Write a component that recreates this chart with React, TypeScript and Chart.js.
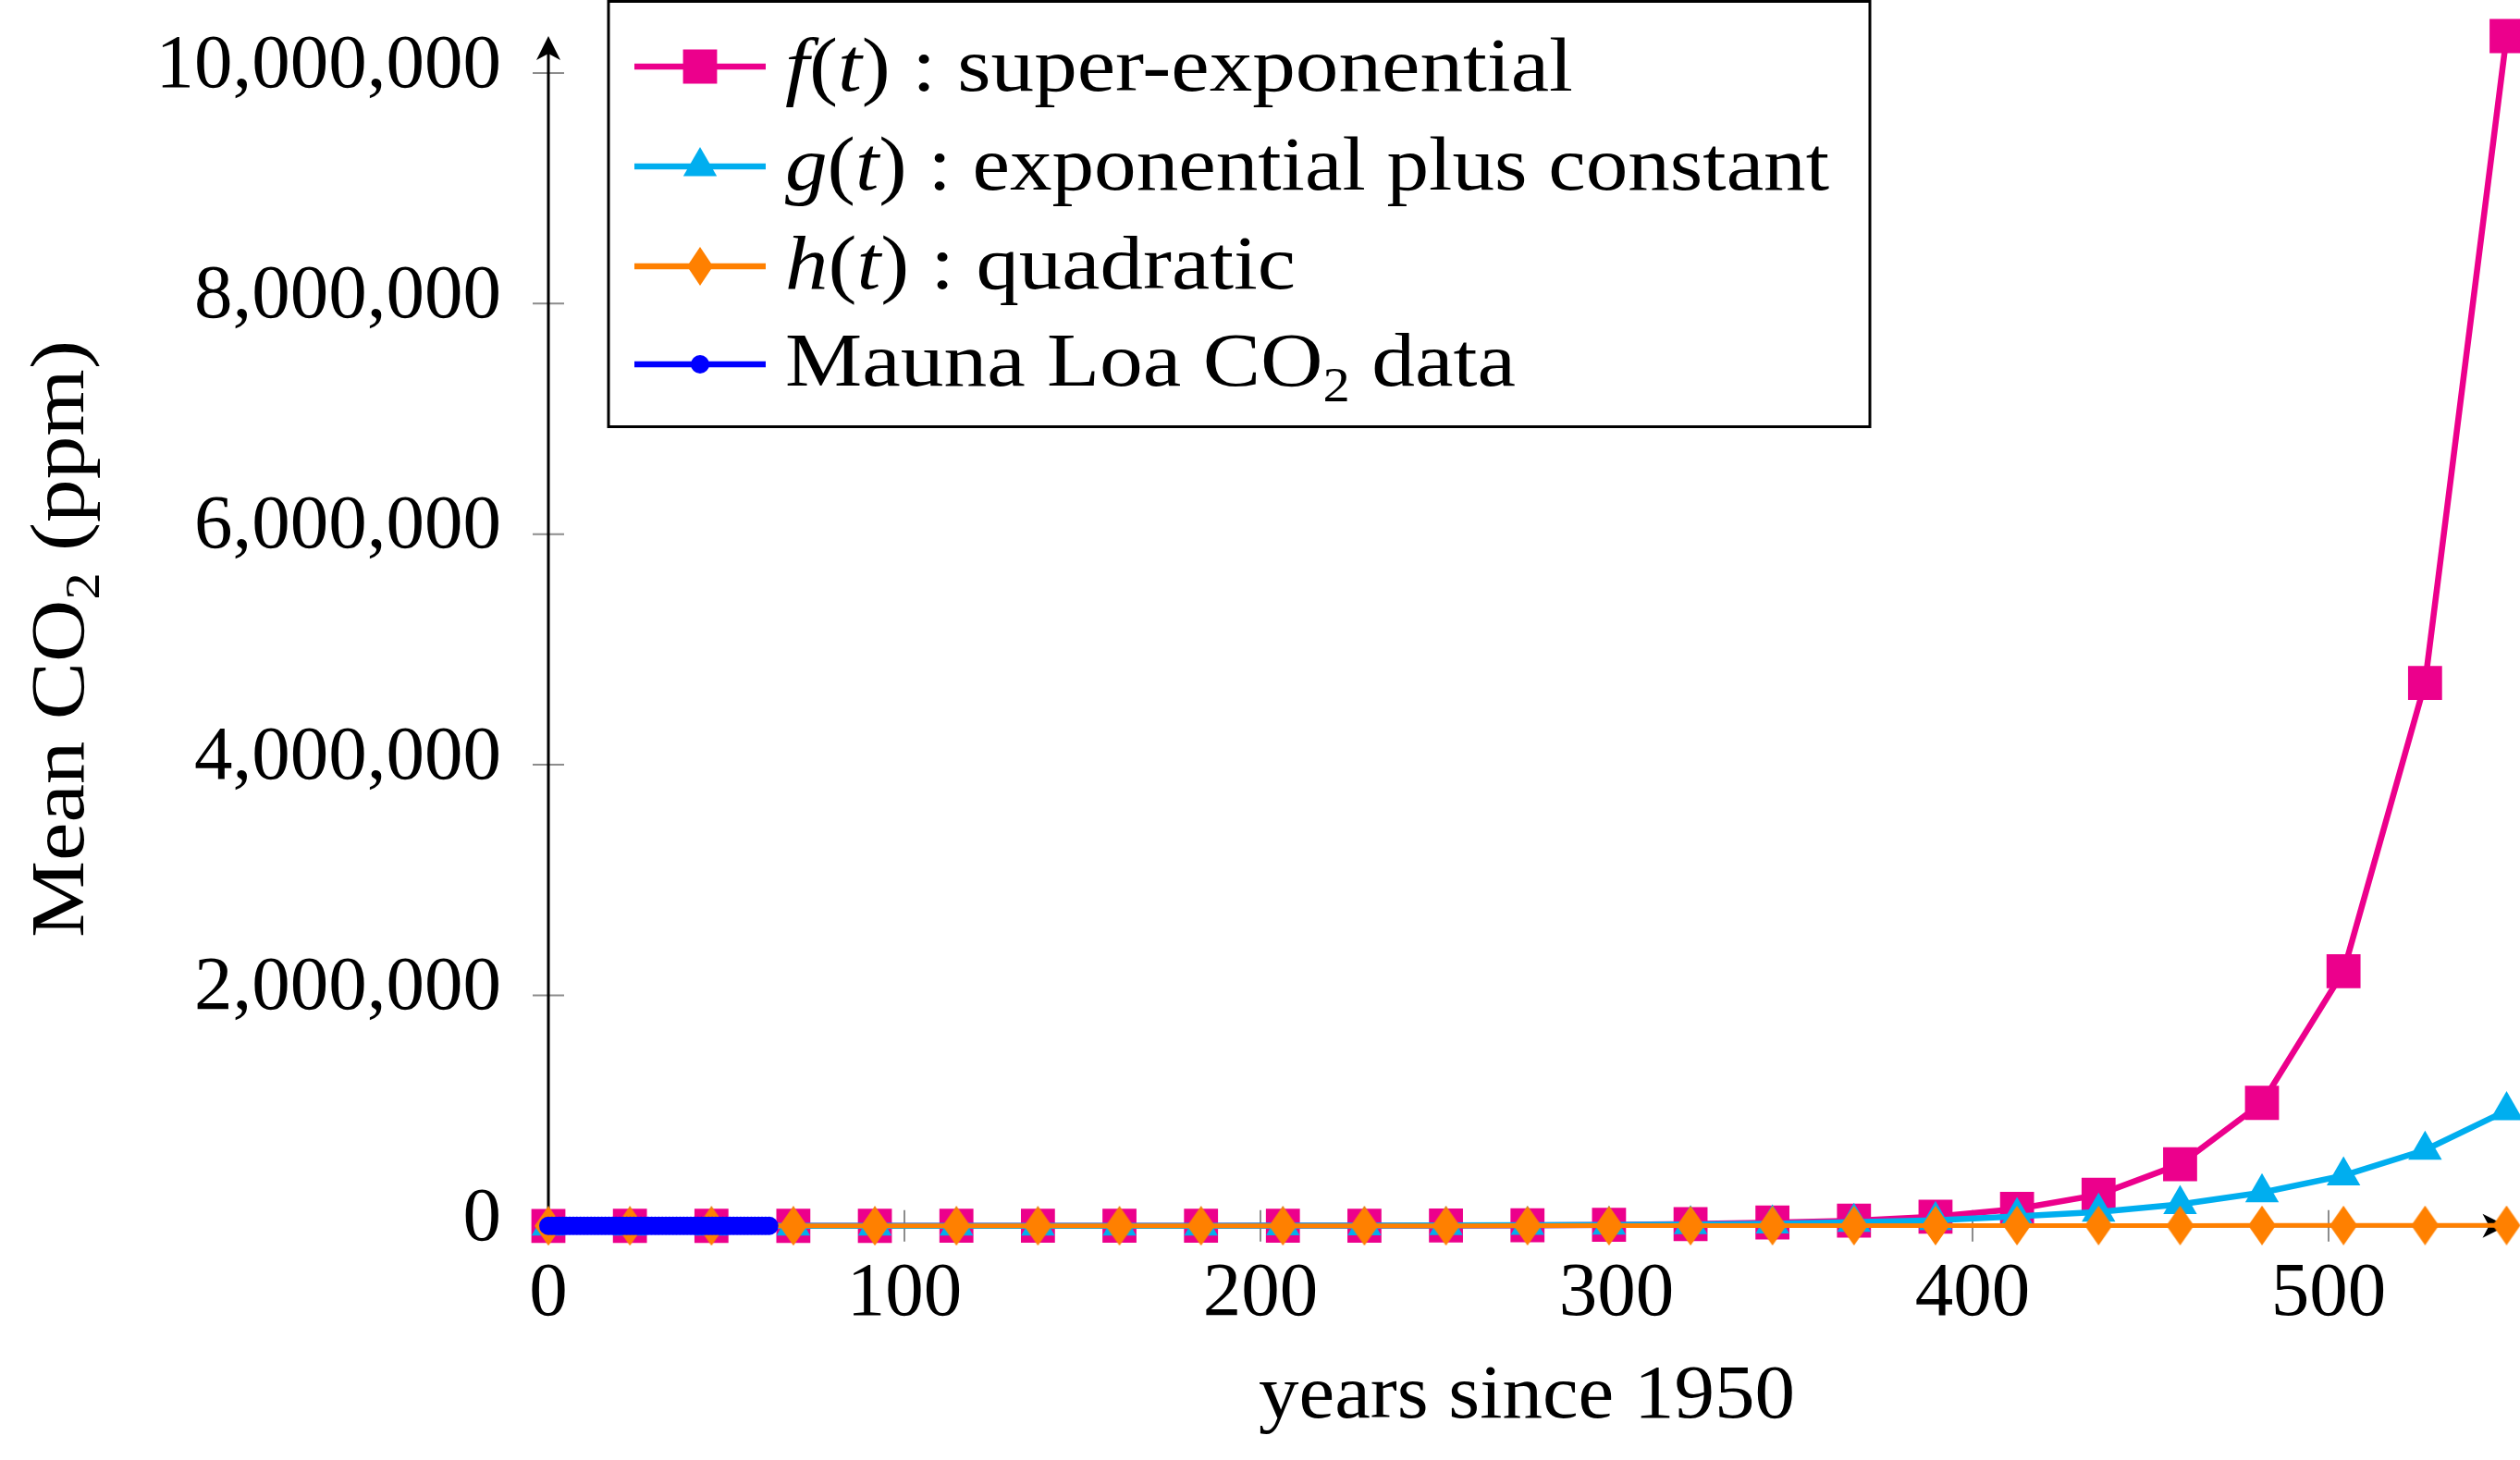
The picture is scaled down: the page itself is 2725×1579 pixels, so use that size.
import { useEffect, useRef } from 'react';
import { Chart, registerables } from 'chart.js';

Chart.register(...registerables);

const W = 2725;
const H = 1579;

// sample points of the three fitted curves (years since 1950)
const years = [0, 22.9, 45.8, 68.8, 91.7, 114.6, 137.5, 160.4, 183.3, 206.3, 229.2, 252.1, 275, 297.9, 320.8, 343.8, 366.7, 389.6, 412.5, 435.4, 458.3, 481.3, 504.2, 527.1, 550];
const superExp = [312, 326, 350, 385, 440, 520, 640, 820, 1100, 1550, 2250, 3400, 5300, 9000, 16000, 29000, 45000, 80000, 147000, 270000, 535000, 1067000, 2209000, 4710000, 10320000];
const expConst = [318, 340, 370, 410, 470, 560, 700, 920, 1250, 1800, 2600, 3900, 5900, 8800, 13000, 19000, 32000, 48000, 83000, 120000, 187000, 289000, 436000, 658000, 1000000];
const quadratic = [315, 340, 380, 430, 490, 570, 650, 760, 870, 1000, 1140, 1290, 1460, 1630, 1830, 2030, 2250, 2480, 2720, 2980, 3250, 3530, 3820, 4130, 4450];

// Mauna Loa record, one value per year
const maunaYears = [0, 1, 2, 3, 4, 5, 6, 7, 8, 9, 10, 11, 12, 13, 14, 15, 16, 17, 18, 19, 20, 21, 22, 23, 24, 25, 26, 27, 28, 29, 30, 31, 32, 33, 34, 35, 36, 37, 38, 39, 40, 41, 42, 43, 44, 45, 46, 47, 48, 49, 50, 51, 52, 53, 54, 55, 56, 57, 58, 59, 60, 61, 62];
const maunaCO2 = [316.0, 316.9, 317.6, 318.5, 319.0, 319.6, 320.0, 321.4, 322.2, 323.1, 324.6, 325.7, 326.3, 327.5, 329.7, 330.2, 331.1, 332.0, 333.8, 335.4, 336.8, 338.8, 340.1, 341.5, 343.2, 344.9, 346.4, 347.6, 349.3, 351.7, 353.2, 354.5, 355.7, 356.5, 357.2, 359.0, 361.0, 362.7, 363.9, 366.8, 368.5, 369.7, 371.3, 373.5, 376.0, 377.7, 380.0, 382.1, 384.0, 385.8, 387.6, 390.1, 391.9, 394.1, 396.7, 398.8, 401.0, 404.4, 406.8, 408.7, 411.7, 414.2, 416.5];

const xTicks = [0, 100, 200, 300, 400, 500];
const yTicks = [0, 2000000, 4000000, 6000000, 8000000, 10000000];

const MAGENTA = '#ec008c';
const CYAN = '#00aeef';
const ORANGE = '#ff8000';
const BLUE = '#0000ff';
const FONT = "'Liberation Serif', 'Times New Roman', serif";

type Seg = { t: string; it?: boolean; sub?: boolean };

const legendLabels: Seg[][] = [
  [{ t: 'f', it: true }, { t: '(' }, { t: 't', it: true }, { t: ') : super-exponential' }],
  [{ t: 'g', it: true }, { t: '(' }, { t: 't', it: true }, { t: ') : exponential plus constant' }],
  [{ t: 'h', it: true }, { t: '(' }, { t: 't', it: true }, { t: ') : quadratic' }],
  [{ t: 'Mauna Loa CO' }, { t: '2', sub: true }, { t: ' data' }],
];
const legendWidths = [852, 1129, 552, 790];
const xTitle: Seg[] = [{ t: 'years since 1950' }];
const yTitle: Seg[] = [{ t: 'Mean CO' }, { t: '2', sub: true }, { t: ' (ppm)' }];

function segFont(s: Seg) {
  return s.sub ? `52px ${FONT}` : `${s.it ? 'italic ' : ''}83px ${FONT}`;
}

function drawRich(ctx: CanvasRenderingContext2D, segs: Seg[], x: number, y: number, width: number, angle = 0) {
  let natural = 0;
  for (const s of segs) {
    ctx.font = segFont(s);
    natural += ctx.measureText(s.t).width;
  }
  const k = width / natural;
  ctx.save();
  ctx.translate(x, y);
  ctx.rotate(angle);
  ctx.scale(k, 1);
  ctx.fillStyle = '#000';
  ctx.textAlign = 'left';
  ctx.textBaseline = 'alphabetic';
  let cx = 0;
  for (const s of segs) {
    ctx.font = segFont(s);
    ctx.fillText(s.t, cx, s.sub ? 17 : 0);
    cx += ctx.measureText(s.t).width;
  }
  ctx.restore();
}

function makeDiamond(color: string) {
  const c = document.createElement('canvas');
  c.width = 30;
  c.height = 43;
  const g = c.getContext('2d')!;
  g.fillStyle = color;
  g.beginPath();
  g.moveTo(15, 0);
  g.lineTo(30, 21.5);
  g.lineTo(15, 43);
  g.lineTo(0, 21.5);
  g.closePath();
  g.fill();
  return c;
}

function drawMarker(ctx: CanvasRenderingContext2D, kind: string, x: number, y: number, color: string) {
  ctx.fillStyle = color;
  ctx.beginPath();
  if (kind === 'square') {
    ctx.rect(x - 18.4, y - 18.4, 36.8, 36.8);
  } else if (kind === 'triangle') {
    const r = 21;
    ctx.moveTo(x, y - r);
    ctx.lineTo(x + r * 0.866, y + r / 2);
    ctx.lineTo(x - r * 0.866, y + r / 2);
    ctx.closePath();
  } else if (kind === 'diamond') {
    ctx.moveTo(x, y - 21);
    ctx.lineTo(x + 14, y);
    ctx.lineTo(x, y + 21);
    ctx.lineTo(x - 14, y);
    ctx.closePath();
  } else {
    ctx.arc(x, y, 10, 0, Math.PI * 2);
  }
  ctx.fill();
}

function arrowHead(ctx: CanvasRenderingContext2D, tx: number, ty: number, dx: number, dy: number) {
  const len = 26, half = 13, notch = 7;
  const bx = tx - dx * len, by = ty - dy * len;
  ctx.beginPath();
  ctx.moveTo(tx, ty);
  ctx.lineTo(bx - dy * half, by + dx * half);
  ctx.lineTo(tx - dx * (len - notch), ty - dy * (len - notch));
  ctx.lineTo(bx + dy * half, by - dx * half);
  ctx.closePath();
  ctx.fill();
}

const markers = ['square', 'triangle', 'diamond', 'circle'];
const colors = [MAGENTA, CYAN, ORANGE, BLUE];

const axesPlugin = {
  id: 'axesOverlay',
  beforeDatasetsDraw(chart: any) {
    const { ctx, chartArea: a, scales } = chart;
    const x = scales.x, y = scales.y;
    const x0 = x.getPixelForValue(0);
    const y0 = y.getPixelForValue(0);
    ctx.save();
    ctx.strokeStyle = '#8c8c8c';
    ctx.lineWidth = 2;
    ctx.beginPath();
    xTicks.filter(v => v !== 0).forEach(v => {
      const px = x.getPixelForValue(v);
      ctx.moveTo(px, y0 - 17);
      ctx.lineTo(px, y0 + 17);
    });
    yTicks.filter(v => v !== 0).forEach(v => {
      const py = y.getPixelForValue(v);
      ctx.moveTo(x0 - 17, py);
      ctx.lineTo(x0 + 17, py);
    });
    ctx.stroke();

    ctx.strokeStyle = '#000';
    ctx.fillStyle = '#000';
    ctx.lineWidth = 3;
    ctx.beginPath();
    ctx.moveTo(x0, y0);
    ctx.lineTo(a.right - 16, y0);
    ctx.moveTo(x0, y0);
    ctx.lineTo(x0, a.top + 16);
    ctx.stroke();
    arrowHead(ctx, a.right, y0, 1, 0);
    arrowHead(ctx, x0, a.top, 0, -1);
    ctx.restore();
  },
  afterDraw(chart: any) {
    const { ctx } = chart;
    ctx.save();
    drawRich(ctx, xTitle, 1361, 1533, 580);
    drawRich(ctx, yTitle, 90, 1014, 646, -Math.PI / 2);

    // legend box
    ctx.fillStyle = '#fff';
    ctx.fillRect(658, 1.5, 1364, 460);
    ctx.strokeStyle = '#000';
    ctx.lineWidth = 3;
    ctx.strokeRect(658, 1.5, 1364, 460);

    const rowsY = [72, 180, 288, 394];
    const baselines = [98, 205, 312, 417];
    legendLabels.forEach((segs, i) => {
      const ry = rowsY[i];
      ctx.strokeStyle = colors[i];
      ctx.lineWidth = 6.5;
      ctx.beginPath();
      ctx.moveTo(686, ry);
      ctx.lineTo(828, ry);
      ctx.stroke();
      drawMarker(ctx, markers[i], 757, ry, colors[i]);
      drawRich(ctx, segs, 849, baselines[i], legendWidths[i]);
    });
    ctx.restore();
  },
};

export default function App() {
  const canvasRef = useRef<HTMLCanvasElement>(null);
  const chartRef = useRef<Chart | null>(null);

  useEffect(() => {
    if (!canvasRef.current) return;
    if (chartRef.current) chartRef.current.destroy();

    const tickFont = { family: FONT, size: 83 };
    const diamond = makeDiamond(ORANGE);

    chartRef.current = new Chart(canvasRef.current, {
      type: 'line',
      data: {
        datasets: [
          {
            label: 'f(t) : super-exponential',
            data: years.map((t, i) => ({ x: t, y: superExp[i] })),
            borderColor: MAGENTA,
            backgroundColor: MAGENTA,
            borderWidth: 6.5,
            pointStyle: 'rect',
            pointRadius: 26,
            pointBorderWidth: 0,
            order: 4,
          },
          {
            label: 'g(t) : exponential plus constant',
            data: years.map((t, i) => ({ x: t, y: expConst[i] })),
            borderColor: CYAN,
            backgroundColor: CYAN,
            borderWidth: 6.5,
            pointStyle: 'triangle',
            pointRadius: 21,
            pointBorderWidth: 0,
            order: 3,
          },
          {
            label: 'h(t) : quadratic',
            data: years.map((t, i) => ({ x: t, y: quadratic[i] })),
            borderColor: ORANGE,
            backgroundColor: ORANGE,
            borderWidth: 5,
            pointStyle: diamond,
            pointRadius: 21,
            pointBorderWidth: 0,
            order: 2,
          },
          {
            label: 'Mauna Loa CO2 data',
            data: maunaYears.map((t, i) => ({ x: t, y: maunaCO2[i] })),
            borderColor: BLUE,
            backgroundColor: BLUE,
            borderWidth: 6.5,
            pointStyle: 'circle',
            pointRadius: 10,
            pointBorderWidth: 0,
            order: 1,
          },
        ] as any,
      },
      options: {
        responsive: false,
        animation: false,
        devicePixelRatio: 1,
        parsing: false,
        clip: false as any,
        layout: { autoPadding: false, padding: { top: 39, right: 14.5, left: 0, bottom: 0 } },
        elements: { line: { tension: 0 } },
        plugins: {
          legend: { display: false },
          tooltip: { enabled: false },
        },
        scales: {
          x: {
            type: 'linear',
            min: 0,
            max: 550,
            afterBuildTicks: (s: any) => { s.ticks = xTicks.map(v => ({ value: v })); },
            afterFit: (s: any) => { s.height = 253.2; s.paddingLeft = 0; s.paddingRight = 0; },
            grid: { display: false, drawTicks: false },
            border: { display: false },
            ticks: {
              font: tickFont,
              color: '#000',
              padding: 25,
              maxRotation: 0,
              autoSkip: false,
            },
          },
          y: {
            type: 'linear',
            min: 0,
            max: Math.max(...superExp),
            afterBuildTicks: (s: any) => { s.ticks = yTicks.map(v => ({ value: v })); },
            afterFit: (s: any) => { s.width = 593; s.paddingTop = 0; s.paddingBottom = 0; },
            grid: { display: false, drawTicks: false },
            border: { display: false },
            ticks: {
              font: tickFont,
              color: '#000',
              padding: 51,
              labelOffset: -7,
              autoSkip: false,
              callback: (v: any) => Number(v).toLocaleString('en-US'),
            },
          },
        },
      },
      plugins: [axesPlugin],
    });

    return () => {
      if (chartRef.current) { chartRef.current.destroy(); chartRef.current = null; }
    };
  }, []);

  return (
    <div style={{ position: 'absolute', left: 0, top: 0, width: W, height: H, background: '#fff' }}>
      <canvas ref={canvasRef} width={W} height={H} style={{ width: W, height: H, display: 'block' }} />
    </div>
  );
}
